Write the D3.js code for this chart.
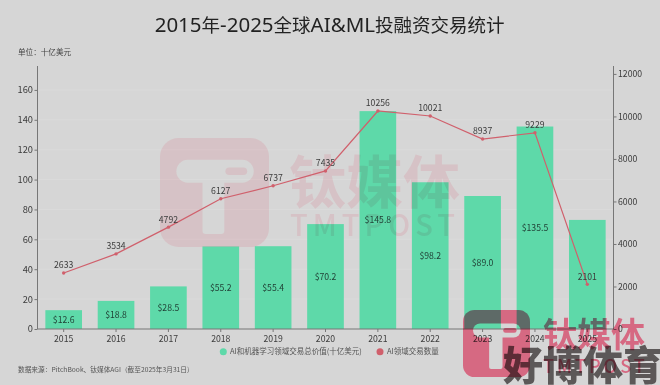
<!DOCTYPE html>
<html><head><meta charset="utf-8">
<script src="https://cdn.jsdelivr.net/npm/d3@7"></script>
<style>html,body{margin:0;padding:0;background:#d6d6d6}svg{display:block}text{font-family:"Noto Sans CJK SC","Noto Sans",sans-serif}</style>
</head><body><svg id="c" width="660" height="385"></svg>
<script>
const years=["2015","2016","2017","2018","2019","2020","2021","2022","2023","2024","2025"];
const dealValue=[12.6,18.8,28.5,55.2,55.4,70.2,145.8,98.2,89.0,135.5,73.0];
const dealValueLabels=["$12.6","$18.8","$28.5","$55.2","$55.4","$70.2","$145.8","$98.2","$89.0","$135.5",""];
const dealCount=[2633,3534,4792,6127,6737,7435,10256,10021,8937,9229,2101];
const leftTicks=[0,20,40,60,80,100,120,140,160];
const rightTicks=[0,2000,4000,6000,8000,10000,12000];
const titleText="2015年-2025全球AI&ML投融资交易统计";
const unitText="单位：十亿美元";
const sourceText="数据来源：PitchBook、钛媒体AGI（截至2025年3月31日）";
const legendNames=["AI和机器学习领域交易总价值(十亿美元)","AI领域交易数量"];

const svg=d3.select("#c");
const M={l:37.5,r:613.5,t:66,b:329};
const x=d3.scaleBand().domain(years).range([M.l,M.r]).paddingInner(0.3).paddingOuter(0.15);
const yL=d3.scaleLinear().domain([0,176]).range([M.b,M.t]);
const yR=d3.scaleLinear().domain([0,12372]).range([M.b,M.t]);
const green="#5ed9a9",red="#d0606c",ink="#3c3c3c";
const defs=svg.append("defs");

// logo mark with real see-through holes
function logo(g,id,x0,y0,s,col){
 const m=defs.append("mask").attr("id",id).attr("maskUnits","userSpaceOnUse")
   .attr("x",0).attr("y",0).attr("width",660).attr("height",385);
 m.append("rect").attr("width",660).attr("height",385).attr("fill","#000");
 m.append("rect").attr("x",x0).attr("y",y0).attr("width",s).attr("height",s).attr("rx",s*0.17).attr("fill","#fff");
 m.append("rect").attr("x",x0+s*0.15).attr("y",y0+s*0.2).attr("width",s*0.71).attr("height",s*0.21).attr("rx",s*0.105).attr("fill","#000");
 m.append("rect").attr("x",x0+s*0.39).attr("y",y0+s*0.22).attr("width",s*0.2).attr("height",s*0.66).attr("rx",s*0.03).attr("fill","#000");
 m.append("rect").attr("x",x0+s*0.6).attr("y",y0+s*0.27).attr("width",s*0.2).attr("height",s*0.07).attr("rx",s*0.035).attr("fill","#fff");
 g.append("rect").attr("x",x0).attr("y",y0).attr("width",s).attr("height",s).attr("fill",col).attr("mask",`url(#${id})`);
}

// gridlines
svg.append("g").selectAll("line").data(leftTicks.slice(1)).join("line")
 .attr("x1",M.l).attr("x2",M.r).attr("y1",d=>yL(d)).attr("y2",d=>yL(d))
 .attr("stroke","#dadada").attr("stroke-width",1);

// bars
svg.append("g").selectAll("rect").data(years).join("rect")
 .attr("x",d=>x(d)).attr("width",x.bandwidth())
 .attr("y",(d,i)=>yL(dealValue[i])).attr("height",(d,i)=>M.b-yL(dealValue[i]))
 .attr("fill",green);

// centre watermark, tinting whatever lies beneath
const bg=svg.append("g").style("mix-blend-mode","multiply");
const wm="#ffe8ec";
logo(bg,"m1",160,138,109,wm);
bg.append("text").attr("x",289).attr("y",203).attr("font-size",57).attr("font-weight",700).attr("fill",wm).text("钛媒体");
bg.append("text").attr("x",290).attr("y",236).attr("font-size",29).attr("font-weight",500).attr("letter-spacing",5).attr("fill",wm).text("TMTPOST");

// axes
const axL=d3.axisLeft(yL).tickValues(leftTicks).tickSize(3).tickPadding(1.5);
const axR=d3.axisRight(yR).tickValues(rightTicks).tickSize(3).tickPadding(1.5).tickFormat(d3.format("d"));
const axB=d3.axisBottom(x).tickSize(3).tickPadding(3.5);
function sty(fs){return g=>{g.selectAll("path,line").attr("stroke","#777");g.selectAll("text").attr("fill",ink).attr("font-size",fs).attr("font-family",'"Noto Sans",sans-serif');};}
svg.append("g").attr("transform",`translate(${M.l},0)`).call(axL).call(sty(9.3)).call(g=>g.select("path").attr("d",`M0,${M.t}V${M.b}`));
svg.append("g").attr("transform",`translate(${M.r},0)`).call(axR).call(sty(8.7)).call(g=>g.select("path").attr("d",`M0,${M.t}V${M.b}`));
svg.append("g").attr("transform",`translate(0,${M.b})`).call(axB).call(sty(8.7)).call(g=>g.select("path").attr("d",`M${M.l},0H${M.r}`));

// bar labels
svg.append("g").selectAll("text").data(years).join("text")
 .attr("x",d=>x(d)+x.bandwidth()/2).attr("y",(d,i)=>(yL(dealValue[i])+M.b)/2+3)
 .attr("text-anchor","middle").attr("font-size",8.7).attr("fill","#1f3d33").attr("font-family",'"Noto Sans",sans-serif')
 .text((d,i)=>dealValueLabels[i]);

// line
const cx=d=>x(d)+x.bandwidth()/2;
svg.append("path").attr("fill","none").attr("stroke",red).attr("stroke-width",1.2)
 .attr("d",d3.line().x(cx).y((d,i)=>yR(dealCount[i]))(years));
svg.append("g").selectAll("circle").data(years).join("circle")
 .attr("cx",cx).attr("cy",(d,i)=>yR(dealCount[i])).attr("r",1.7).attr("fill",red);
svg.append("g").selectAll("text").data(years).join("text")
 .attr("x",cx).attr("y",(d,i)=>yR(dealCount[i])-4.6)
 .attr("text-anchor","middle").attr("font-size",8.7).attr("fill",ink).attr("font-family",'"Noto Sans",sans-serif')
 .text((d,i)=>dealCount[i]);

// title: Latin runs are set larger than the CJK runs, as in the reference
const title=svg.append("text").attr("x",329.6).attr("y",32).attr("text-anchor","middle").attr("fill","#222");
title.selectAll("tspan").data(titleText.match(/[\x00-\x7f]+|[^\x00-\x7f]+/g)).join("tspan")
 .attr("font-size",d=>/^[\x00-\x7f]/.test(d)?20.5:18.5)
 .attr("font-family",d=>/^[\x00-\x7f]/.test(d)?'"Noto Sans",sans-serif':'"Noto Sans CJK SC",sans-serif')
 .text(d=>d);
svg.append("text").attr("x",18).attr("y",55).attr("font-size",7.6).attr("fill","#444").text(unitText);
svg.append("text").attr("x",18).attr("y",371.5).attr("font-size",6.7).attr("fill","#555").text(sourceText);

// legend
const lg=svg.append("g");
lg.append("circle").attr("cx",223.3).attr("cy",351.7).attr("r",3.5).attr("fill",green);
lg.append("text").attr("x",230).attr("y",354.4).attr("font-size",7.5).attr("fill","#555").text(legendNames[0]);
lg.append("circle").attr("cx",380).attr("cy",351.7).attr("r",3.5).attr("fill",red);
lg.append("text").attr("x",387).attr("y",354.4).attr("font-size",7.5).attr("fill","#555").text(legendNames[1]);

// foreground watermark
const fg=svg.append("g").style("mix-blend-mode","multiply");
const wm2="#ff7d9b";
logo(fg,"m2",463,310,67,wm2);
fg.append("text").attr("x",543).attr("y",347).attr("font-size",34).attr("font-weight",700).attr("fill",wm2).text("钛媒体");
fg.append("text").attr("x",543).attr("y",373).attr("font-size",18).attr("font-weight",500).attr("letter-spacing",3).attr("fill",wm2).text("TMTPOST");
const fg2=svg.append("g").style("mix-blend-mode","multiply");
fg2.append("text").attr("x",503).attr("y",380).attr("font-size",40).attr("font-weight",900).attr("fill","#6e6969").text("好博体育");
</script></body></html>
